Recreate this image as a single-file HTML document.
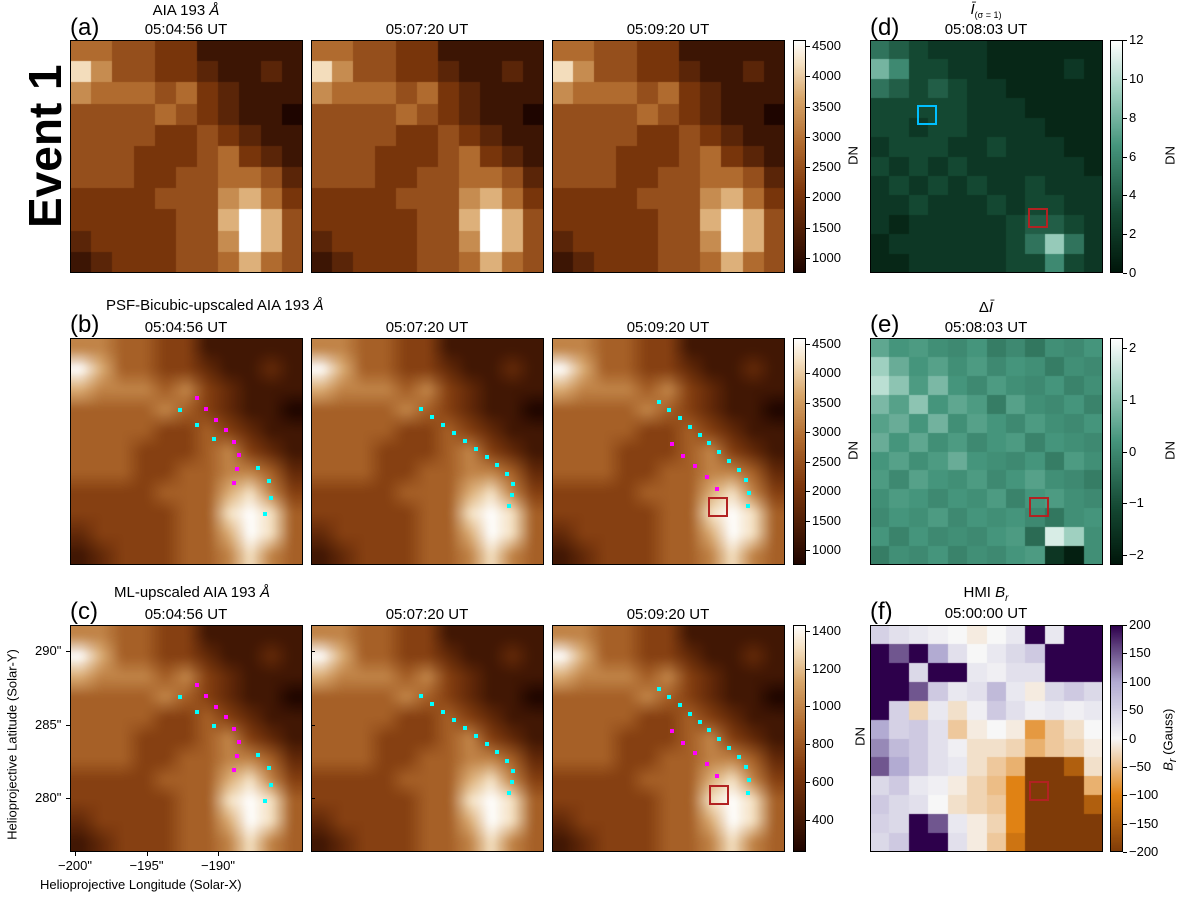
<!DOCTYPE html>
<html><head><meta charset="utf-8">
<style>
body{margin:0;background:#fff;font-family:"Liberation Sans","DejaVu Sans",sans-serif;}
#root{position:relative;width:1200px;height:905px;overflow:hidden;background:#fff;}
.t{position:absolute;white-space:nowrap;color:#000;font-size:15px;line-height:1;}
.c{transform:translateX(-50%);text-align:center;}
.pl{font-size:24px;}
canvas{position:absolute;}
.frame{position:absolute;border:1px solid #000;box-sizing:border-box;}
.tick{position:absolute;background:#000;}
.sm{font-size:13px;}
</style></head>
<body><div id="root">
<div class="t" style="left:-20px;top:140px;font-size:46px;font-weight:bold;transform:rotate(-90deg);transform-origin:center;width:130px;text-align:center">Event 1</div>
</div>
<script>
const aia=[
[5,5,4,4,3,3,1,1,1,1,1],
[8,6,4,4,3,3,2,1,1,2,1],
[6,5,5,5,4,5,3,2,1,1,1],
[4,4,4,4,5,4,3,2,1,1,0],
[4,4,4,4,3,3,4,3,2,1,1],
[4,4,4,3,3,3,4,5,3,2,1],
[4,4,4,3,3,4,4,5,5,4,2],
[3,3,3,3,4,4,4,6,7,5,3],
[3,3,3,3,3,4,4,7,9,7,4],
[2,3,3,3,3,4,4,6,9,7,4],
[1,2,3,3,3,4,4,5,7,5,4]];
const dmap=[
[5,4,3,2,2,2,1,1,1,1,1,1],
[8,6,3,3,2,2,1,1,1,1,2,1],
[5,4,3,4,3,2,2,1,1,1,1,1],
[3,3,3,3,3,2,2,2,1,1,1,1],
[3,3,2,3,3,2,2,2,2,1,1,1],
[2,3,3,3,2,2,3,2,2,2,1,1],
[3,2,3,2,3,2,2,2,2,2,2,1],
[2,3,2,3,2,3,2,2,3,2,2,2],
[2,2,3,2,2,2,3,2,3,3,2,2],
[2,1,2,2,2,2,2,3,4,4,3,2],
[1,2,2,2,2,2,2,3,5,9,5,2],
[1,1,2,2,2,2,2,3,3,6,3,2]];
const emap=[
[0.5,0.2,0.3,0.1,0,0.2,-0.2,0,-0.3,0.1,0,0.2],
[1.2,0.6,0.2,0.4,0.1,0.3,0,0.2,0.1,-0.2,0.1,0],
[1.5,1.0,0.3,0.8,0.2,0,0.3,0.1,0,0.2,-0.1,0.1],
[0.8,0.4,1.0,0.2,0.5,0.3,-0.2,0.4,0.1,0,0.2,-0.1],
[0.4,0.6,0.2,0.7,0.1,0.4,0.2,0,0.3,0.1,0,0.2],
[0.6,0.2,0.5,0.1,0.3,0,0.2,0.3,-0.1,0.2,0.1,0],
[0.2,0.4,0.1,0.3,0.6,0.2,0.1,0,0.2,-0.2,0.3,0.1],
[0.3,0,0.4,0.2,0.1,0.3,0,0.2,0.4,0.1,0,-0.2],
[0.1,0.3,0.2,0,0.2,0.1,0.3,-0.1,0.2,0.3,0.1,0],
[0,0.2,0.1,0.3,0,0.2,0.1,0.2,0,-0.3,0.1,0.2],
[0.2,-0.1,0.2,0,0.1,0,0.2,0.3,-0.5,1.8,1.2,0.1],
[-0.2,0.1,0,0.2,-0.1,0.1,0,0.2,0.3,-1.5,-2,0.1]];
const fmap=[
[50,30,20,10,0,-10,0,20,200,20,200,200],
[200,150,200,100,30,0,20,40,60,200,200,200],
[200,200,40,200,200,20,10,30,30,200,200,200],
[200,200,150,60,20,30,80,20,-10,40,60,40],
[200,50,-30,20,-20,10,60,30,10,20,10,20],
[100,50,60,30,-40,-10,0,-10,-80,-40,-20,0],
[120,80,60,30,10,-20,-20,-30,-60,-40,-30,-10],
[150,100,60,30,20,-20,-40,-60,-200,-200,-150,-20],
[40,60,20,10,-10,-30,-50,-100,-200,-200,-200,-60],
[60,40,30,0,-20,-30,-40,-100,-200,-200,-200,-150],
[50,40,200,150,20,-10,-30,-100,-200,-200,-200,-200],
[40,60,200,200,30,-10,-40,-120,-200,-200,-200,-200]];
const magenta1=[[127,60],[136,71],[146,82],[156,92],[164,104],[169,117],[167,131],[164,145]];
const cyan1=[[110,72],[127,87],[144,101],[188,130],[199,143],[201,160],[195,176]];
const cyan2=[[110,71],[121,79],[132,87],[143,95],[154,103],[165,111],[176,119],[186,127],[196,136],[202,146],[201,157],[198,168]];
const cyan3=[[107,64],[117,72],[128,80],[138,89],[148,97],[157,105],[167,114],[177,123],[187,132],[194,142],[197,155],[196,168]];
const magenta3=[[120,106],[131,118],[143,128],[155,139],[165,151]];
const cbA=[1000,1500,2000,2500,3000,3500,4000,4500];
const cbC=[400,600,800,1000,1200,1400];
const cbD=[0,2,4,6,8,10,12];
const cbE=[-2,-1,0,1,2];
const cbF=[-200,-150,-100,-50,0,50,100,150,200];
const xTicks=[-200,-195,-190];
const yTicks=[280,285,290];

const root=document.getElementById('root');
function lerpMap(stops,t){t=Math.max(0,Math.min(1,t));for(let i=1;i<stops.length;i++){if(t<=stops[i][0]){const a=stops[i-1],b=stops[i];const f=(t-a[0])/(b[0]-a[0]||1);return [0,1,2].map(k=>Math.round(a[1][k]+(b[1][k]-a[1][k])*f));}}return stops[stops.length-1][1];}
const aiaC=[[0,[30,5,0]],[0.35,[125,55,12]],[0.55,[175,105,45]],[0.75,[215,165,105]],[0.9,[245,225,195]],[1,[255,255,255]]];
const grC=[[0,[0,22,10]],[0.25,[20,72,50]],[0.55,[70,150,125]],[0.8,[170,215,200]],[1,[255,255,255]]];
const puC=[[0,[127,59,8]],[0.25,[224,130,20]],[0.5,[247,247,247]],[0.75,[178,171,210]],[1,[45,0,75]]];
function css(c){return 'rgb('+c[0]+','+c[1]+','+c[2]+')';}
function txt(s,x,y,cls,name){const d=document.createElement('div');d.className='t '+(cls||'');d.innerHTML=s;d.style.left=x+'px';d.style.top=y+'px';


root.appendChild(d);return d;}
function img(x,y,w,h,grid,cmap,vmin,vmax,smooth,name){
const src=document.createElement('canvas');const R=grid.length,C=grid[0].length;src.width=C;src.height=R;const sx=src.getContext('2d');
for(let r=0;r<R;r++)for(let c=0;c<C;c++){let t=(grid[r][c]-vmin)/(vmax-vmin);sx.fillStyle=css(lerpMap(cmap,t));sx.fillRect(c,r,1,1);}
const cv=document.createElement('canvas');cv.width=w;cv.height=h;cv.style.left=x+'px';cv.style.top=y+'px';


const g=cv.getContext('2d');g.imageSmoothingEnabled=!!smooth;
if(smooth){g.imageSmoothingQuality='high';const m=document.createElement('canvas');m.width=C*4;m.height=R*4;const mg=m.getContext('2d');mg.imageSmoothingEnabled=true;mg.drawImage(src,0,0,C*4,R*4);g.drawImage(m,0,0,w,h);}else g.drawImage(src,0,0,w,h);
root.appendChild(cv);
const f=document.createElement('div');f.className='frame';f.style.cssText+=`left:${x}px;top:${y}px;width:${w}px;height:${h}px`;


root.appendChild(f);return g;}
function dots(x,y,arr,col,name){arr.forEach(p=>{const d=document.createElement('div');d.style.cssText=`position:absolute;left:${x+p[0]-2}px;top:${y+p[1]-2}px;width:4px;height:4px;background:${col}`;


root.appendChild(d);});}
function box(x,y,w,col,name,bw){const d=document.createElement('div');d.style.cssText=`position:absolute;left:${x}px;top:${y}px;width:${w}px;height:${w}px;border:${bw||2}px solid ${col};box-sizing:border-box`;


root.appendChild(d);}
function cbar(x,y,h,cmap,ticks,vmin,vmax,name,label,lblName){
const cv=document.createElement('canvas');cv.width=13;cv.height=h;cv.style.left=x+'px';cv.style.top=y+'px';


const g=cv.getContext('2d');for(let i=0;i<h;i++){g.fillStyle=css(lerpMap(cmap,1-i/(h-1)));g.fillRect(0,i,13,1);}root.appendChild(cv);
const f=document.createElement('div');f.className='frame';f.style.cssText+=`left:${x}px;top:${y}px;width:13px;height:${h}px`;


root.appendChild(f);
ticks.forEach(v=>{const yy=y+h-(v-vmin)/(vmax-vmin)*h;const tk=document.createElement('div');tk.className='tick';tk.style.cssText=`left:${x+13}px;top:${yy}px;width:4px;height:1px`;


root.appendChild(tk);txt(String(v).replace('-','−'),x+19,yy-7,'sm',name+'-tick-label');});
if(label){const l=txt(label,x+60,y+h/2-8,'sm',lblName);l.style.transform='translateX(-50%) rotate(-90deg)';}}
const cols=[70,311,552], times=['05:04:56 UT','05:07:20 UT','05:09:20 UT'];
const rowY=[40,338,625], rowH=[233,227,227];
txt('(a)',70,16,'pl','panel-a-label');txt('AIA 193 <i>Å</i>',186,3,'c','panel-a-title');
txt('(b)',70,313,'pl','panel-b-label');txt('PSF-Bicubic-upscaled AIA 193 <i>Å</i>',106,298,'','panel-b-title');
txt('(c)',70,600,'pl','panel-c-label');txt('ML-upscaled AIA 193 <i>Å</i>',114,585,'','panel-c-title');
for(let r=0;r<3;r++)for(let i=0;i<3;i++){txt(times[i],cols[i]+116,rowY[r]-18,'c','time-label');
img(cols[i],rowY[r],233,rowH[r],aia,aiaC,0,r>0?7.8:9,r>0,'aia-image');}
dots(70,338,magenta1,'#ff00ff','magenta-point');dots(70,338,cyan1,'#00ffff','cyan-point');
dots(311,338,cyan2,'#00ffff','cyan-point');dots(552,338,cyan3,'#00ffff','cyan-point');dots(552,338,magenta3,'#ff00ff','magenta-point');
dots(70,625,magenta1,'#ff00ff','magenta-point');dots(70,625,cyan1,'#00ffff','cyan-point');
dots(311,625,cyan2,'#00ffff','cyan-point');dots(552,625,cyan3,'#00ffff','cyan-point');dots(552,625,magenta3,'#ff00ff','magenta-point');
box(708,497,20,'#b22222','roi-box-b');box(709,785,20,'#b22222','roi-box-c');
cbar(793,40,233,aiaC,cbA,750,4600,'colorbar-a','DN','colorbar-a-label');
cbar(793,338,227,aiaC,cbA,750,4600,'colorbar-b','DN','colorbar-b-label');
cbar(793,625,227,aiaC,cbC,230,1430,'colorbar-c','','');
xTicks.forEach(v=>{const x=75+(v+200)*14.3;const tk=document.createElement('div');tk.className='tick';tk.style.cssText=`left:${x}px;top:852px;width:1px;height:4px`;


root.appendChild(tk);txt(String(v).replace('-','−')+'"',x,859,'c sm','x-tick-label');});
yTicks.forEach(v=>{const y=798-(v-280)*14.7;[66,311].forEach(xx=>{const tk=document.createElement('div');tk.className='tick';tk.style.cssText=`left:${xx}px;top:${y}px;width:4px;height:1px`;


root.appendChild(tk);});txt(v+'"',35,y-7,'sm','y-tick-label');});
txt('Helioprojective Longitude (Solar-X)',40,878,'sm','x-axis-title');
const yl=txt('Helioprojective Latitude (Solar-Y)',12,738,'sm','y-axis-title');yl.style.transform='translateX(-50%) rotate(-90deg)';
txt('(d)',870,16,'pl','panel-d-label');txt('<i>Ī</i><sub style="font-size:9px">(σ = 1)</sub>',986,2,'c','panel-d-title');txt('05:08:03 UT',986,22,'c','time-d');
txt('(e)',870,313,'pl','panel-e-label');txt('Δ<i>Ī</i>',986,300,'c','panel-e-title');txt('05:08:03 UT',986,320,'c','time-e');
txt('(f)',870,600,'pl','panel-f-label');txt('HMI <i>B<sub style="font-size:10px">r</sub></i>',986,585,'c','panel-f-title');txt('05:00:00 UT',986,606,'c','time-f');
img(870,40,233,233,dmap,grC,0,12,false,'mean-intensity-map');
img(870,338,233,227,emap,grC,-2.2,2.2,false,'delta-intensity-map');
img(870,625,233,227,fmap,puC,-200,200,false,'hmi-br-map');
box(1028,208,20,'#b22222','roi-box-d');box(1029,497,20,'#b22222','roi-box-e');box(1029,781,20,'#b22222','roi-box-f');
box(917,105,20,'#00bfff','cyan-box-d');
{const l=txt('DN',860,730,'sm','dn-label');l.style.transform='translateX(-50%) rotate(-90deg)';}
cbar(1110,40,233,grC,cbD,0,12,'colorbar-d','DN','colorbar-d-label');
cbar(1110,338,227,grC,cbE,-2.2,2.2,'colorbar-e','DN','colorbar-e-label');
cbar(1110,625,227,puC,cbF,-200,200,'colorbar-f','<i>B<sub>r</sub></i> (Gauss)','colorbar-f-label');
</script>
</body></html>
